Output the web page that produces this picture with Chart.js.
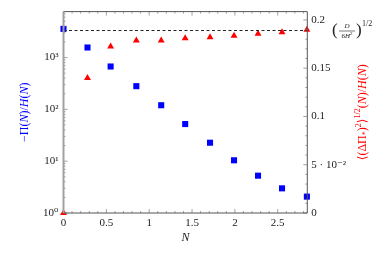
<!DOCTYPE html>
<html>
<head>
<meta charset="utf-8">
<script src="https://cdn.jsdelivr.net/npm/chart.js@4"></script>
<style>
  html, body { margin: 0; padding: 0; background: #fff; }
  #c { display: block; }
</style>
</head>
<body>
<canvas id="c" width="390" height="256"></canvas>
<script>
// N values along the bottom axis
const nValues = [0, 0.28, 0.55, 0.85, 1.14, 1.42, 1.71, 1.99, 2.27, 2.55, 2.84]
// -Pi(N)/H(N), left log axis (blue squares)
const meanRatio = [3570, 1560, 671, 280, 120, 52, 22.7, 10.4, 5.25, 2.99, 2.07]
// <(dPi*)^2>^1/2 (N)/H(N), right axis (red triangles)
const fluctRatio = [0, 0.1398, 0.1725, 0.1787, 0.1787, 0.181, 0.182, 0.1835, 0.1856, 0.1872, 0.1897]
// (D/6H^2)^1/2 level, dashed line
const limitValue = 0.189

const xTicks = [0, 0.5, 1, 1.5, 2, 2.5]
const xTickLabels = ['0', '0.5', '1', '1.5', '2', '2.5']
const yTicks = [1, 10, 100, 1000]
const yTickLabels = ['10\u2070', '10\u00b9', '10\u00b2', '10\u00b3']
const y2Ticks = [0, 0.05, 0.1, 0.15, 0.2]
const y2TickLabels = ['0', '5 \u00b7 10\u207b\u00b2', '0.1', '0.15', '0.2']

const FONT = '"Liberation Serif", "DejaVu Serif", serif'
const BLUE = 'rgb(0,0,255)', RED = 'rgb(255,0,0)'

function pts(xs, ys){ return xs.map((x, i) => ({x: x, y: ys[i]})) }

// draw a run of text pieces with different styles
function drawRich(ctx, x, y, segs, align){
  let w = 0
  for (const s of segs){
    ctx.font = (s.italic ? 'italic ' : '') + (s.size || 12) + 'px ' + FONT
    s.w = ctx.measureText(s.t).width
    w += s.w
  }
  let cx = align === 'center' ? x - w/2 : x
  ctx.textBaseline = 'middle'
  ctx.textAlign = 'left'
  for (const s of segs){
    ctx.font = (s.italic ? 'italic ' : '') + (s.size || 12) + 'px ' + FONT
    ctx.fillText(s.t, cx, y + (s.dy || 0))
    cx += s.w
  }
}

const framePlugin = {
  id: 'frame',
  afterDatasetsDraw(chart){
    const ctx = chart.ctx
    const a = chart.chartArea
    const sx = chart.scales.x, sy = chart.scales.y, sy2 = chart.scales.y2
    ctx.save()
    // tick marks, drawn inward
    ctx.lineWidth = 0.8
    ctx.strokeStyle = '#8a8a8a'
    for (let i = 0; i <= 28; i++){
      const v = i / 10
      const px = sx.getPixelForValue(v)
      const len = (i % 5 === 0) ? 4 : 2
      ctx.beginPath()
      ctx.moveTo(px, a.bottom); ctx.lineTo(px, a.bottom - len)
      ctx.moveTo(px, a.top); ctx.lineTo(px, a.top + len)
      ctx.stroke()
    }
    for (let d = 1; d <= 1000; d *= 10){
      for (let m = 1; m <= 9; m++){
        const v = d * m
        if (v > sy.max) break
        const py = sy.getPixelForValue(v)
        const len = m === 1 ? 4 : 2
        ctx.beginPath()
        ctx.moveTo(a.left, py); ctx.lineTo(a.left + len, py)
        ctx.stroke()
      }
    }
    for (let i = 0; i <= 20; i++){
      const py = sy2.getPixelForValue(i / 100)
      const len = (i % 5 === 0) ? 4 : 2
      ctx.beginPath()
      ctx.moveTo(a.right, py); ctx.lineTo(a.right - len, py)
      ctx.stroke()
    }
    // frame
    ctx.strokeStyle = '#555'
    ctx.lineWidth = 1
    ctx.beginPath()
    ctx.moveTo(a.left, a.top); ctx.lineTo(a.right, a.top)
    ctx.lineTo(a.right, a.bottom); ctx.lineTo(a.left, a.bottom)
    ctx.stroke()
    ctx.strokeStyle = '#a0a0a0'
    ctx.lineWidth = 2
    ctx.beginPath()
    ctx.moveTo(a.left, a.top); ctx.lineTo(a.left, a.bottom)
    ctx.stroke()
    ctx.restore()
  },
  afterDraw(chart){
    const ctx = chart.ctx
    const a = chart.chartArea
    ctx.save()
    // x title
    ctx.fillStyle = '#222'
    drawRich(ctx, (a.left + a.right)/2, 238, [{t: 'N', italic: true, size: 12}], 'center')
    // left title
    ctx.save()
    ctx.translate(25, (a.top + a.bottom)/2)
    ctx.rotate(-Math.PI/2)
    ctx.fillStyle = BLUE
    drawRich(ctx, 0, 0, [
      {t: '\u2212\u03a0(', size: 12}, {t: 'N', italic: true, size: 12}, {t: ')/', size: 12},
      {t: 'H', italic: true, size: 12}, {t: '(', size: 12}, {t: 'N', italic: true, size: 12}, {t: ')', size: 12}
    ], 'center')
    ctx.restore()
    // right title
    ctx.save()
    ctx.translate(363, (a.top + a.bottom)/2)
    ctx.rotate(-Math.PI/2)
    ctx.fillStyle = RED
    drawRich(ctx, 0, 0, [
      {t: '\u27e8(\u0394\u03a0', size: 12}, {t: '*', size: 8, dy: 3}, {t: ')', size: 12},
      {t: '2', size: 8, dy: -4}, {t: '\u27e9', size: 12}, {t: '1/2', size: 8, dy: -5},
      {t: '(', size: 12}, {t: 'N', italic: true, size: 12}, {t: ')/', size: 12},
      {t: 'H', italic: true, size: 12}, {t: '(', size: 12}, {t: 'N', italic: true, size: 12}, {t: ')', size: 12}
    ], 'center')
    ctx.restore()
    // annotation (D/6H^2)^(1/2)
    ctx.fillStyle = '#222'
    const ax = 332, ay = 31
    ctx.font = '17px ' + FONT
    ctx.textBaseline = 'middle'
    ctx.textAlign = 'left'
    ctx.fillText('(', ax, ay)
    drawRich(ctx, ax + 15, ay - 5, [{t: 'D', italic: true, size: 7}], 'center')
    drawRich(ctx, ax + 15, ay + 5, [{t: '6', size: 7}, {t: 'H', italic: true, size: 7}, {t: '2', size: 5, dy: -2}], 'center')
    ctx.strokeStyle = '#222'
    ctx.lineWidth = 0.6
    ctx.beginPath()
    ctx.moveTo(ax + 7, ay); ctx.lineTo(ax + 23, ay)
    ctx.stroke()
    ctx.font = '17px ' + FONT
    ctx.fillText(')', ax + 24, ay)
    drawRich(ctx, ax + 30, ay - 7, [{t: '1/2', size: 8}], 'left')
    ctx.restore()
  }
}

const tickFont = {family: FONT, size: 11}

new Chart(document.getElementById('c'), {
  type: 'scatter',
  data: {
    datasets: [
      {
        label: 'limit',
        type: 'line',
        data: [{x: 0, y: limitValue}, {x: nValues[nValues.length - 1], y: limitValue}],
        yAxisID: 'y2',
        borderColor: '#222',
        borderWidth: 1,
        borderDash: [3, 2.5],
        pointRadius: 0,
        fill: false
      },
      {
        label: 'mean',
        data: pts(nValues, meanRatio),
        yAxisID: 'y',
        pointStyle: 'rect',
        pointRadius: 4.3,
        backgroundColor: BLUE,
        borderColor: BLUE,
        borderWidth: 0,
        clip: false
      },
      {
        label: 'fluct',
        data: pts(nValues, fluctRatio),
        yAxisID: 'y2',
        pointStyle: 'triangle',
        pointRadius: 4,
        backgroundColor: RED,
        borderColor: RED,
        borderWidth: 0,
        clip: false
      }
    ]
  },
  options: {
    responsive: false,
    animation: false,
    layout: {padding: {top: 11, left: 0, right: 0, bottom: 0}},
    plugins: {legend: {display: false}, tooltip: {enabled: false}},
    scales: {
      x: {
        type: 'linear',
        min: 0, max: 2.845,
        grid: {display: false, drawTicks: false},
        border: {display: false},
        afterBuildTicks: s => { s.ticks = xTicks.map(v => ({value: v})) },
        afterFit: s => { s.height = 43 },
        ticks: {
          font: tickFont, color: '#222', padding: 4, maxRotation: 0,
          callback: (v) => xTickLabels[xTicks.indexOf(v)]
        }
      },
      y: {
        type: 'logarithmic',
        position: 'left',
        min: 1, max: 7690,
        grid: {display: false, drawTicks: false},
        border: {display: false},
        afterBuildTicks: s => { s.ticks = yTicks.map(v => ({value: v})) },
        afterFit: s => { s.width = 63.5 },
        ticks: {
          font: tickFont, color: '#222', padding: 5,
          callback: (v) => yTickLabels[yTicks.indexOf(v)]
        }
      },
      y2: {
        type: 'linear',
        position: 'right',
        min: 0, max: 0.2086,
        grid: {display: false, drawTicks: false},
        border: {display: false},
        afterBuildTicks: s => { s.ticks = y2Ticks.map(v => ({value: v})) },
        afterFit: s => { s.width = 82.7 },
        ticks: {
          font: tickFont, color: '#222', padding: 4,
          callback: (v) => y2TickLabels[y2Ticks.indexOf(v)]
        }
      }
    }
  },
  plugins: [framePlugin]
})
</script>
</body>
</html>
